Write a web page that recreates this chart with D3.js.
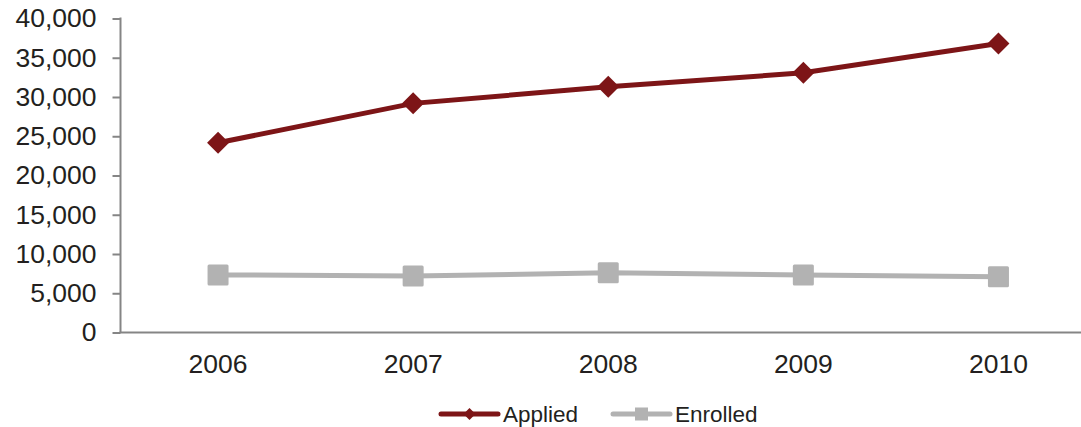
<!DOCTYPE html>
<html>
<head>
<meta charset="utf-8">
<script src="https://cdn.jsdelivr.net/npm/d3@7"></script>
<style>
  html, body { margin: 0; padding: 0; background: #fff; }
  svg { display: block; }
  text { font-family: "Liberation Sans", Arial, sans-serif; fill: #231F20; }
</style>
</head>
<body>
<script>
const years = ["2006", "2007", "2008", "2009", "2010"];
const applied = [24170, 29190, 31300, 33080, 36820];
const enrolled = [7340, 7210, 7600, 7340, 7090];
const yTicks = [0, 5000, 10000, 15000, 20000, 25000, 30000, 35000, 40000];
const seriesNames = ["Applied", "Enrolled"];
const seriesColors = ["#7D1517", "#B2B2B2"];

(function () {
const W = 1081, H = 427;
const svg = d3.select("body").append("svg").attr("width", W).attr("height", H);

const pLeft = 120.5, pRight = 1096, pTop = 18.5, pBottom = 332.5;
const x = d3.scaleBand().domain(years).range([pLeft, pRight]);
const y = d3.scaleLinear().domain([0, 40000]).range([pBottom, pTop]);
const cx = d => x(d) + x.bandwidth() / 2;

// Y axis
const yAxis = svg.append("g").attr("transform", `translate(${pLeft},0)`)
  .call(d3.axisLeft(y).tickValues(yTicks).tickSize(8).tickPadding(16)
    .tickFormat(d3.format(",")));
yAxis.select(".domain").attr("stroke", "#858585").attr("stroke-width", 2)
  .attr("d", `M0,${pTop - 1}V${pBottom}`);
yAxis.selectAll(".tick line").attr("stroke", "#858585").attr("stroke-width", 2);
yAxis.selectAll(".tick text").attr("font-size", 26.5).attr("fill", "#231F20")
  .attr("font-family", "Liberation Sans, Arial, sans-serif");

// X axis
const xAxis = svg.append("g").attr("transform", `translate(0,${pBottom})`)
  .call(d3.axisBottom(x).tickSize(0).tickPadding(22));
xAxis.select(".domain").attr("stroke", "#858585").attr("stroke-width", 2)
  .attr("d", `M${pLeft - 1},0H${W}`);
xAxis.selectAll(".tick text").attr("font-size", 26.5).attr("fill", "#231F20")
  .attr("font-family", "Liberation Sans, Arial, sans-serif");

const line = d3.line().x((d, i) => cx(years[i])).y(d => y(d));

// Enrolled series
svg.append("path").datum(enrolled).attr("d", line)
  .attr("fill", "none").attr("stroke", seriesColors[1]).attr("stroke-width", 5);
svg.selectAll("rect.enr").data(enrolled).enter().append("rect")
  .attr("class", "enr")
  .attr("x", (d, i) => cx(years[i]) - 10.5).attr("y", d => y(d) - 10.5)
  .attr("width", 21).attr("height", 21).attr("rx", 1.5)
  .attr("fill", seriesColors[1]);

// Applied series
svg.append("path").datum(applied).attr("d", line)
  .attr("fill", "none").attr("stroke", seriesColors[0]).attr("stroke-width", 5);
const diamond = (s) => `M0,${-s}L${s},0L0,${s}L${-s},0Z`;
svg.selectAll("path.app").data(applied).enter().append("path")
  .attr("class", "app")
  .attr("transform", (d, i) => `translate(${cx(years[i])},${y(d)})`)
  .attr("d", diamond(11)).attr("fill", seriesColors[0]);

// Legend
const leg = svg.append("g");
const legItems = [
  { name: seriesNames[0], color: seriesColors[0], x1: 441, x2: 498, tx: 503, marker: "diamond" },
  { name: seriesNames[1], color: seriesColors[1], x1: 613, x2: 670, tx: 675, marker: "square" }
];
const ly = 414;
legItems.forEach(it => {
  leg.append("line").attr("x1", it.x1).attr("x2", it.x2).attr("y1", ly).attr("y2", ly)
    .attr("stroke", it.color).attr("stroke-width", 5).attr("stroke-linecap", "round");
  const mx = (it.x1 + it.x2) / 2;
  if (it.marker === "diamond") {
    leg.append("path").attr("transform", `translate(${mx},${ly})`).attr("d", diamond(6)).attr("fill", it.color);
  } else {
    leg.append("rect").attr("x", mx - 6.5).attr("y", ly - 6.5).attr("width", 13).attr("height", 13).attr("fill", it.color);
  }
  leg.append("text").attr("x", it.tx).attr("y", ly).attr("dy", "0.36em")
    .attr("font-size", 22.5).text(it.name);
});
})();
</script>
</body>
</html>
